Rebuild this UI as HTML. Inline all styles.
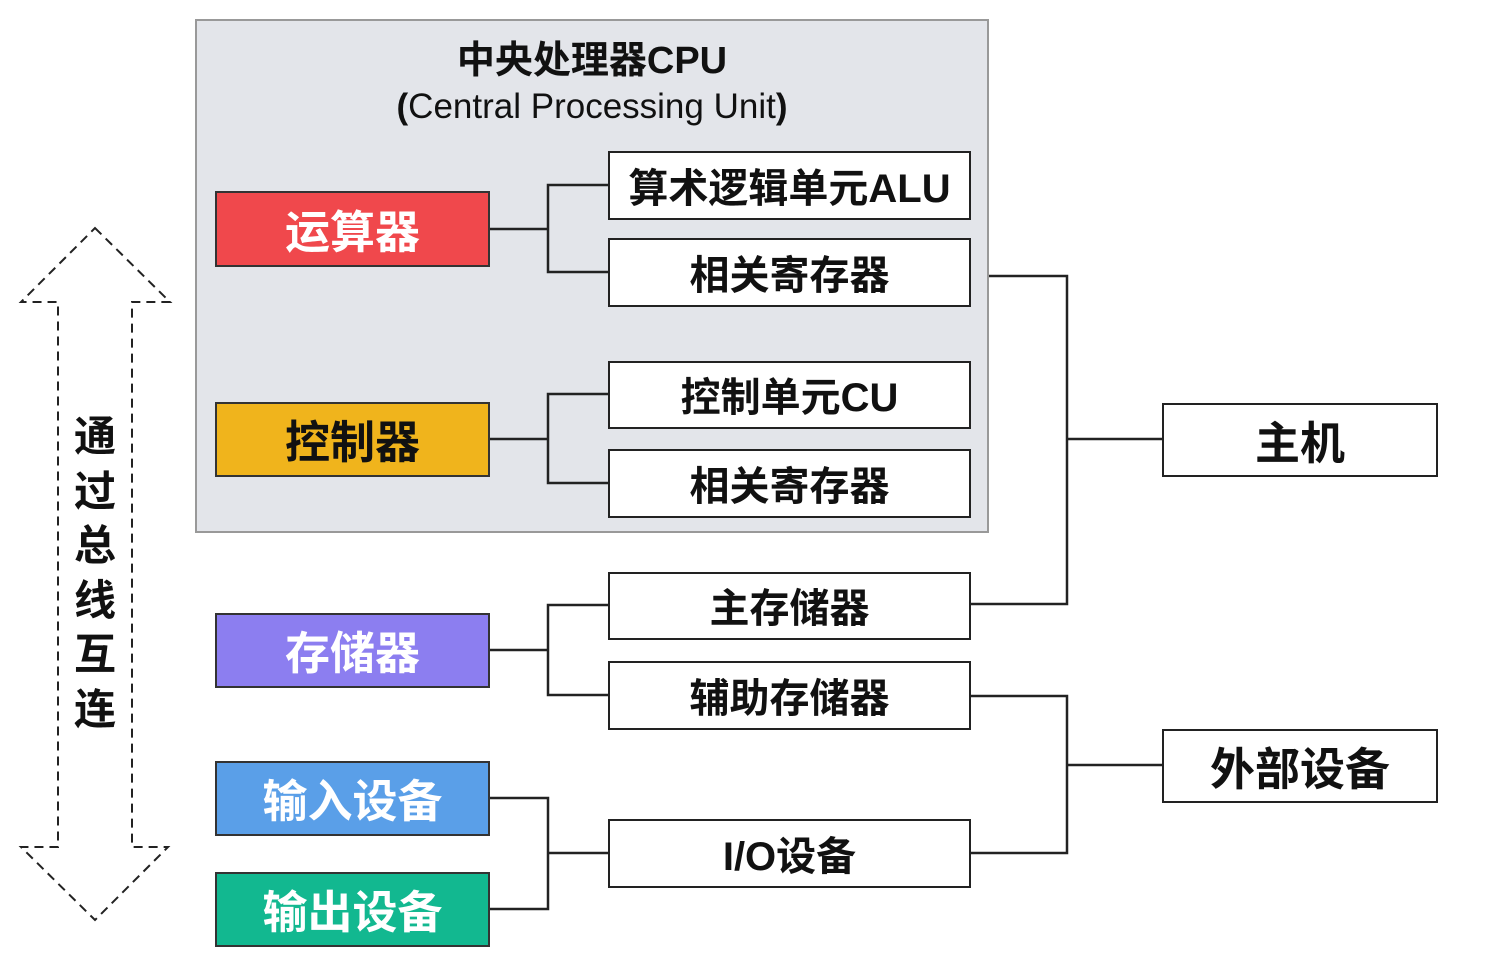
<!DOCTYPE html>
<html><head><meta charset="utf-8"><style>
body{margin:0;width:1502px;height:965px;background:#fff;position:relative;overflow:hidden;font-family:"Liberation Sans","Noto Sans CJK SC",sans-serif;}
.b{position:absolute;box-sizing:border-box;display:flex;align-items:center;justify-content:center;font-weight:bold;padding-bottom:2px;}
.l{border:2px solid #333;color:#fff;font-size:45px;}
.r{border:2.5px solid #222;background:#fff;color:#111;font-size:40px;}
.t{position:absolute;text-align:center;font-weight:bold;color:#111;}
</style></head><body>
<div class="b" style="left:195px;top:19px;width:794px;height:514px;background:#e3e5ea;border:2px solid #999;"></div>
<div class="t" style="left:195px;width:794px;top:29px;font-size:38px;">中央处理器CPU</div>
<div class="t" style="left:195px;width:794px;top:87px;font-size:35px;font-weight:normal;"><b>(</b>Central Processing Unit<b>)</b></div>

<div class="b l" style="left:215px;top:191px;width:275px;height:76px;background:#f0484c;">运算器</div>
<div class="b l" style="left:215px;top:402px;width:275px;height:75px;background:#f0b41c;color:#111;">控制器</div>
<div class="b l" style="left:215px;top:613px;width:275px;height:75px;background:#8c7ef0;">存储器</div>
<div class="b l" style="left:215px;top:761px;width:275px;height:75px;background:#5a9fe8;">输入设备</div>
<div class="b l" style="left:215px;top:872px;width:275px;height:75px;background:#12b890;">输出设备</div>

<div class="b r" style="left:608px;top:151px;width:363px;height:69px;">算术逻辑单元ALU</div>
<div class="b r" style="left:608px;top:238px;width:363px;height:69px;">相关寄存器</div>
<div class="b r" style="left:608px;top:361px;width:363px;height:68px;">控制单元CU</div>
<div class="b r" style="left:608px;top:449px;width:363px;height:69px;">相关寄存器</div>
<div class="b r" style="left:608px;top:572px;width:363px;height:68px;">主存储器</div>
<div class="b r" style="left:608px;top:661px;width:363px;height:69px;">辅助存储器</div>
<div class="b r" style="left:608px;top:819px;width:363px;height:69px;">I/O设备</div>
<div class="b r" style="left:1162px;top:403px;width:276px;height:74px;font-size:45px;">主机</div>
<div class="b r" style="left:1162px;top:729px;width:276px;height:74px;font-size:45px;">外部设备</div>

<svg style="position:absolute;left:0;top:0" width="1502" height="965">
<g stroke="#222" stroke-width="2.5" fill="none">
<polyline points="490,229 548,229"/><polyline points="608,185 548,185 548,272 608,272"/>
<polyline points="490,439 548,439"/><polyline points="608,394 548,394 548,483 608,483"/>
<polyline points="490,650 548,650"/><polyline points="608,605 548,605 548,695 608,695"/>
<polyline points="490,798 548,798 548,909 490,909"/><polyline points="548,853 608,853"/>
<polyline points="989,276 1067,276 1067,604 971,604"/><polyline points="1067,439 1162,439"/>
<polyline points="971,696 1067,696 1067,853 971,853"/><polyline points="1067,765 1162,765"/>
</g>
<polygon points="95,228 170,302 132,302 132,847 168,847 95,920 21,847 58,847 58,302 21,302" fill="none" stroke="#222" stroke-width="2" stroke-dasharray="9,6"/>
</svg>
<div class="t" style="left:65px;width:60px;top:410px;font-size:42px;line-height:54.5px;">通<br>过<br>总<br>线<br>互<br>连</div>
</body></html>
